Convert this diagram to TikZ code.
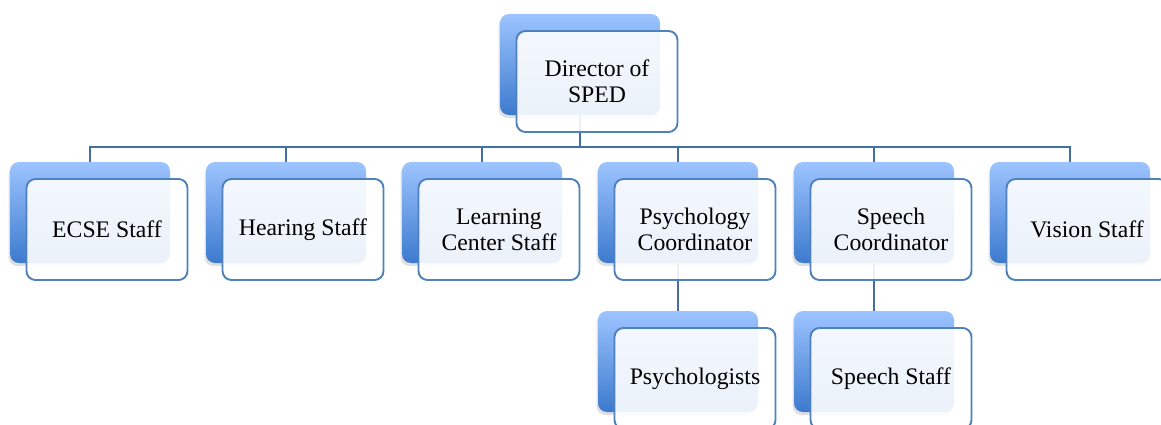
\documentclass[tikz,border=0pt]{standalone}
\usepackage{fontspec}
\setmainfont{Liberation Serif}
\usetikzlibrary{shadows,backgrounds}
\definecolor{backtop}{RGB}{157,196,255}
\definecolor{backbot}{RGB}{60,122,206}
\definecolor{frontline}{RGB}{79,129,189}
\definecolor{linkcol}{RGB}{68,110,168}
\tikzset{
  backbox/.style={rounded corners=0.18cm, minimum width=3.2cm, minimum height=2.02cm,
    top color=backtop, bottom color=backbot, draw=none,
    drop shadow={opacity=0.25, shadow xshift=-0.03cm, shadow yshift=-0.06cm}},
  frontbox/.style={rounded corners=0.18cm, minimum width=3.22cm, minimum height=2.02cm,
    draw=frontline, line width=1.1pt, fill=white, fill opacity=0.9, text opacity=1,
    align=center, inner sep=0pt, font=\fontsize{13.5}{14.8}\selectfont},
  link/.style={draw=linkcol, line width=1.1pt}
}
\begin{document}
\begin{tikzpicture}
    \newcommand{\offs}{0.34}
    \useasboundingbox (0,0) rectangle (23.22,8.48);
    % top
    \node[backbox] (dirb) at (11.6,7.19) {};
    \node[frontbox] (dir) at ([shift={(\offs,-\offs)}]dirb.center) {Director of\\SPED};
    % first row
    \node[backbox] (ecseb) at (1.8,4.23) {};
    \node[frontbox] (ecse) at ([shift={(\offs,-\offs)}]ecseb.center) {ECSE Staff};
    \node[backbox] (hearb) at (5.72,4.23) {};
    \node[frontbox] (hear) at ([shift={(\offs,-\offs)}]hearb.center) {Hearing Staff};
    \node[backbox] (learnb) at (9.64,4.23) {};
    \node[frontbox] (learn) at ([shift={(\offs,-\offs)}]learnb.center) {Learning\\Center Staff};
    \node[backbox] (psyb) at (13.56,4.23) {};
    \node[frontbox] (psy) at ([shift={(\offs,-\offs)}]psyb.center) {Psychology\\Coordinator};
    \node[backbox] (speechb) at (17.48,4.23) {};
    \node[frontbox] (speech) at ([shift={(\offs,-\offs)}]speechb.center) {Speech\\Coordinator};
    \node[backbox] (visionb) at (21.4,4.23) {};
    \node[frontbox] (vision) at ([shift={(\offs,-\offs)}]visionb.center) {Vision Staff};
    % second row
    \node[backbox] (psysb) at (13.56,1.25) {};
    \node[frontbox] (psys) at ([shift={(\offs,-\offs)}]psysb.center) {Psychologists};
    \node[backbox] (speechsb) at (17.48,1.25) {};
    \node[frontbox] (speechs) at ([shift={(\offs,-\offs)}]speechsb.center) {Speech Staff};
    % links
    \coordinate (bus) at (11.6,5.54);
    \begin{scope}[on background layer]
    \draw[link] (dirb.south) -- (bus);
    \draw[link] (ecseb.north) |- (bus) -| (visionb.north);
    \draw[link] (hearb.north) -- (hearb.north |- bus);
    \draw[link] (learnb.north) -- (learnb.north |- bus);
    \draw[link] (psyb.north) -- (psyb.north |- bus);
    \draw[link] (speechb.north) -- (speechb.north |- bus);
    \draw[link] (psyb.south) -- (psysb.north);
    \draw[link] (speechb.south) -- (speechsb.north);
    \end{scope}
\end{tikzpicture}
\end{document}
